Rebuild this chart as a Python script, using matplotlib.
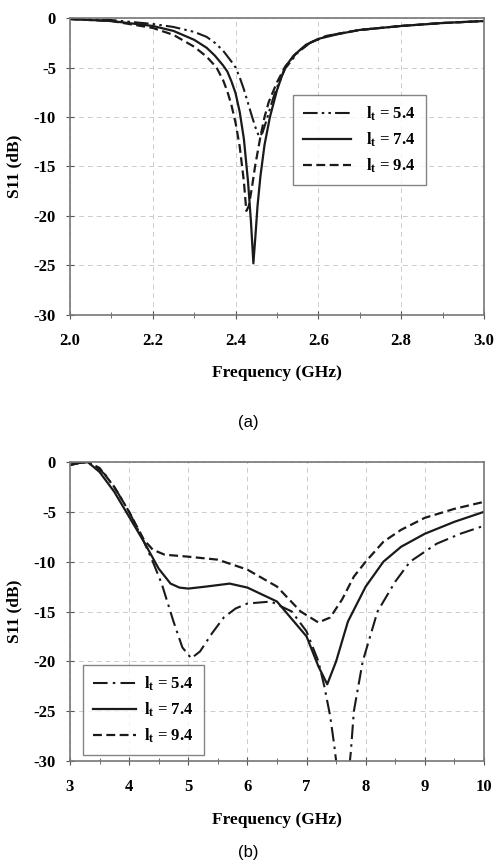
import matplotlib
matplotlib.use("Agg")
import matplotlib.pyplot as plt
from matplotlib.ticker import MultipleLocator, FormatStrFormatter

plt.rcParams['font.family'] = ['Liberation Serif', 'DejaVu Serif']
plt.rcParams['font.weight'] = 'bold'
plt.rcParams['axes.unicode_minus'] = False
plt.rcParams['mathtext.fontset'] = 'custom'
plt.rcParams['mathtext.rm'] = 'Liberation Serif:bold'
plt.rcParams['mathtext.it'] = 'Liberation Serif:bold'
plt.rcParams['mathtext.bf'] = 'Liberation Serif:bold'

labels = ["l$_{t}$ = 5.4", "l$_{t}$ = 7.4", "l$_{t}$ = 9.4"]

# ---- (a) 2.0 - 3.0 GHz ----
fa_54 = [2.0, 2.1, 2.2, 2.25, 2.3, 2.33, 2.35, 2.37, 2.39, 2.4, 2.41, 2.42, 2.43, 2.44, 2.45, 2.457, 2.465, 2.475, 2.49, 2.5, 2.52, 2.55, 2.58, 2.62, 2.7, 2.8, 2.9, 3.0]
sa_54 = [-0.1, -0.2, -0.6, -0.9, -1.4, -1.9, -2.5, -3.3, -4.4, -5.0, -6.0, -7.2, -8.6, -10.0, -11.3, -12.0, -11.6, -10.3, -8.2, -7.0, -5.1, -3.5, -2.5, -1.8, -1.2, -0.8, -0.5, -0.3]
fa_74 = [2.0, 2.1, 2.2, 2.25, 2.3, 2.33, 2.35, 2.37, 2.38, 2.39, 2.4, 2.41, 2.42, 2.43, 2.437, 2.443, 2.448, 2.453, 2.46, 2.47, 2.483, 2.5, 2.519, 2.54, 2.57, 2.6, 2.65, 2.7, 2.8, 2.9, 3.0]
sa_74 = [-0.1, -0.3, -0.8, -1.3, -2.2, -3.0, -3.8, -4.8, -5.4, -6.4, -7.6, -9.5, -12.2, -16.5, -20.5, -24.8, -22.0, -19.0, -16.0, -12.8, -10.0, -7.3, -5.0, -3.8, -2.7, -2.1, -1.6, -1.2, -0.8, -0.5, -0.3]
fa_94 = [2.0, 2.1, 2.2, 2.25, 2.3, 2.33, 2.354, 2.37, 2.38, 2.39, 2.4, 2.41, 2.42, 2.426, 2.432, 2.44, 2.447, 2.46, 2.47, 2.48, 2.5, 2.52, 2.55, 2.58, 2.62, 2.7, 2.8, 2.9, 3.0]
sa_94 = [-0.1, -0.3, -1.0, -1.7, -2.9, -3.9, -5.0, -6.3, -7.4, -8.8, -10.6, -13.0, -16.5, -19.5, -19.0, -17.0, -15.0, -12.0, -10.0, -8.5, -6.5, -4.9, -3.4, -2.5, -1.8, -1.2, -0.8, -0.5, -0.3]

# ---- (b) 3 - 10 GHz ----
fb_54 = [3.0, 3.15, 3.3, 3.45, 3.6, 3.8, 4.0, 4.25, 4.4, 4.55, 4.75, 4.9, 5.05, 5.2, 5.4, 5.6, 5.8, 6.0, 6.4, 6.75, 7.0, 7.2, 7.3, 7.4, 7.47, 7.52, 7.6, 7.7, 7.75, 7.8, 7.95, 8.2, 8.5, 8.75, 9.2, 9.6, 10.0]
sb_54 = [-0.3, -0.1, 0.0, -0.5, -1.3, -3.0, -5.0, -8.0, -10.0, -12.2, -16.0, -18.6, -19.7, -19.0, -17.2, -15.6, -14.7, -14.2, -14.0, -15.0, -17.0, -20.0, -22.5, -25.5, -28.5, -31.0, -34.0, -32.0, -29.0, -25.0, -20.0, -15.0, -12.0, -10.0, -8.2, -7.2, -6.4]
fb_74 = [3.0, 3.15, 3.3, 3.5, 3.75, 4.0, 4.25, 4.5, 4.7, 4.85, 5.0, 5.3, 5.7, 6.0, 6.5, 7.0, 7.2, 7.35, 7.5, 7.7, 8.0, 8.3, 8.6, 9.0, 9.5, 10.0]
sb_74 = [-0.3, -0.1, 0.0, -1.0, -3.0, -5.5, -8.0, -10.7, -12.2, -12.6, -12.7, -12.5, -12.2, -12.6, -14.0, -17.5, -20.5, -22.3, -20.0, -16.0, -12.5, -10.0, -8.5, -7.2, -6.0, -5.0]
fb_94 = [3.0, 3.15, 3.3, 3.5, 3.75, 4.0, 4.25, 4.4, 4.6, 5.0, 5.5, 6.0, 6.5, 6.9, 7.2, 7.4, 7.6, 7.8, 8.0, 8.3, 8.6, 9.0, 9.5, 10.0]
sb_94 = [-0.3, -0.1, 0.0, -0.6, -2.5, -5.0, -7.8, -8.8, -9.3, -9.5, -9.8, -10.8, -12.5, -15.0, -16.1, -15.6, -13.8, -11.5, -10.0, -8.0, -6.8, -5.6, -4.7, -4.0]

lc = '#1a1a1a'
fig = plt.figure(figsize=(4.97, 8.6), dpi=100)
axa = fig.add_axes([0.1408, 0.634, 0.833, 0.345])
axb = fig.add_axes([0.1408, 0.1151, 0.833, 0.3477])


def style(ax, xmaj, xmin):
    ax.xaxis.set_major_locator(MultipleLocator(xmaj))
    ax.xaxis.set_minor_locator(MultipleLocator(xmin))
    ax.yaxis.set_major_locator(MultipleLocator(5))
    ax.set_ylim(-30, 0)
    ax.grid(True, which='major', linestyle=(0, (5, 4)), color='#cccccc', linewidth=0.7)
    ax.tick_params(which='both', direction='inout', labelsize=12, color='#555555')
    ax.tick_params(which='major', length=6)
    ax.tick_params(which='minor', length=4)
    ax.tick_params(axis='x', which='major', pad=10)
    ax.tick_params(axis='y', which='major', pad=7)
    for s in ax.spines.values():
        s.set_color('#777777')
        s.set_linewidth(1.2)
    ax.set_xlabel('Frequency (GHz)', fontsize=12.5, fontweight='bold', labelpad=12)
    ax.set_ylabel('S11 (dB)', fontsize=12.5, fontweight='bold', labelpad=8)
    for lab in ax.get_xticklabels() + ax.get_yticklabels():
        lab.set_fontweight('bold')


axa.plot(fa_54, sa_54, color=lc, lw=1.5, linestyle=(0, (7, 2, 1.2, 2, 1.2, 2)), label=labels[0])
axa.plot(fa_74, sa_74, color=lc, lw=1.6, linestyle='-', label=labels[1])
axa.plot(fa_94, sa_94, color=lc, lw=1.6, linestyle=(0, (4, 2)), label=labels[2])
axa.set_xlim(2.0, 3.0)
axa.xaxis.set_major_formatter(FormatStrFormatter('%.1f'))
style(axa, 0.2, 0.1)
leg = axa.legend(loc='upper left', bbox_to_anchor=(0.539, 0.741), borderaxespad=0, fontsize=12,
                 frameon=True, fancybox=False, edgecolor='#666666', handlelength=2.9,
                 handletextpad=0.9, borderpad=0.6, labelspacing=0.45)
leg.get_frame().set_linewidth(1.0)

axb.plot(fb_54, sb_54, color=lc, lw=1.5, linestyle=(0, (7, 2.5, 1.2, 2.5)), label=labels[0])
axb.plot(fb_74, sb_74, color=lc, lw=1.6, linestyle='-', label=labels[1])
axb.plot(fb_94, sb_94, color=lc, lw=1.6, linestyle=(0, (4, 2)), label=labels[2])
axb.set_xlim(3, 10)
style(axb, 1, 0.5)
leg = axb.legend(loc='lower left', bbox_to_anchor=(0.031, 0.02), borderaxespad=0, fontsize=12,
                 frameon=True, fancybox=False, edgecolor='#666666', handlelength=2.6,
                 handletextpad=0.5, borderpad=0.6, labelspacing=0.45)
leg.get_frame().set_linewidth(1.0)

fig.text(0.5, 1 - 422 / 860, '(a)', ha='center', va='center', fontsize=12,
         family='Liberation Sans', fontweight='normal')
fig.text(0.5, 1 - 853 / 860, '(b)', ha='center', va='center', fontsize=12,
         family='Liberation Sans', fontweight='normal')

fig.savefig('out.png', dpi=100)
